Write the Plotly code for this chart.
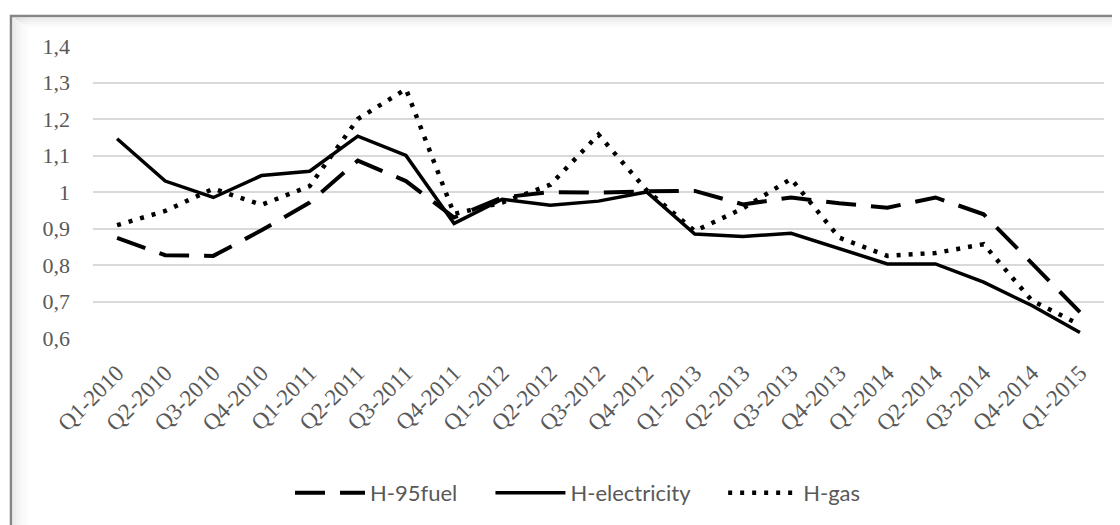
import plotly.graph_objects as go

quarters = ["Q1-2010", "Q2-2010", "Q3-2010", "Q4-2010",
            "Q1-2011", "Q2-2011", "Q3-2011", "Q4-2011",
            "Q1-2012", "Q2-2012", "Q3-2012", "Q4-2012",
            "Q1-2013", "Q2-2013", "Q3-2013", "Q4-2013",
            "Q1-2014", "Q2-2014", "Q3-2014", "Q4-2014",
            "Q1-2015"]

h_95fuel = [0.874, 0.827, 0.825, 0.895, 0.971, 1.086, 1.030, 0.930, 0.985, 1.000, 0.998,
            1.002, 1.003, 0.966, 0.985, 0.969, 0.957, 0.985, 0.939, 0.803, 0.671]
h_electricity = [1.146, 1.030, 0.985, 1.045, 1.057, 1.153, 1.100, 0.914, 0.980, 0.964, 0.975,
                 1.000, 0.885, 0.878, 0.887, 0.844, 0.803, 0.803, 0.753, 0.689, 0.615]
h_gas = [0.909, 0.948, 1.009, 0.965, 1.016, 1.200, 1.282, 0.940, 0.971, 1.020, 1.157,
         1.005, 0.893, 0.955, 1.036, 0.875, 0.825, 0.833, 0.857, 0.703, 0.636]

series_names = ["H-95fuel", "H-electricity", "H-gas"]

y_ticks = [0.6, 0.7, 0.8, 0.9, 1.0, 1.1, 1.2, 1.3, 1.4]
y_ticktext = ["0,6", "0,7", "0,8", "0,9", "1", "1,1", "1,2", "1,3", "1,4"]

# page body has an 8px margin, so the figure is drawn 8px in from the window corner
OFF = 8
W, H = 1112, 517
ML, MR, MT, MB = 85, 16, 38, 186
PW, PH = W - ML - MR, H - MT - MB


def px_x(x):
    """window pixel x -> paper coordinate"""
    return (x - OFF - ML) / PW


def px_y(y):
    """window pixel y -> paper coordinate"""
    return (H - MB - (y - OFF)) / PH


NB = "\u00a0" * 5

fig = go.Figure()
fig.add_trace(go.Scatter(x=quarters, y=h_95fuel, name=series_names[0] + NB, mode="lines",
                         line=dict(color="black", width=4, dash="30px,15px")))
fig.add_trace(go.Scatter(x=quarters, y=h_electricity, name=series_names[1] + NB, mode="lines",
                         line=dict(color="black", width=3.5)))
fig.add_trace(go.Scatter(x=quarters, y=h_gas, name=series_names[2], mode="lines",
                         line=dict(color="black", width=4.5, dash="4px,8px")))

shapes = []
# inner shadow of the frame
for i, op in enumerate([0.07, 0.05, 0.035, 0.02, 0.01]):
    off = 13 + i * 3
    shapes.append(dict(type="rect", xref="paper", yref="paper",
                       x0=px_x(off), x1=px_x(off + 3), y0=px_y(560), y1=px_y(17),
                       line=dict(width=0), fillcolor=f"rgba(0,0,0,{op})", layer="below"))
    offy = 18 + i * 2
    shapes.append(dict(type="rect", xref="paper", yref="paper",
                       x0=px_x(off + 3), x1=px_x(1160), y0=px_y(offy + 2), y1=px_y(offy),
                       line=dict(width=0), fillcolor=f"rgba(0,0,0,{op})", layer="below"))
# frame
shapes.append(dict(type="rect", xref="paper", yref="paper",
                   x0=px_x(11), x1=px_x(1160), y0=px_y(560), y1=px_y(16),
                   line=dict(color="#858585", width=2.5)))

fig.update_layout(
    width=W, height=H,
    margin=dict(l=ML, r=MR, t=MT, b=MB),
    paper_bgcolor="white", plot_bgcolor="white",
    showlegend=True,
    legend=dict(orientation="h", x=px_x(578), xanchor="center", y=px_y(493), yanchor="middle",
                font=dict(family="Lato, 'Open Sans', sans-serif", size=22, color="#595959"),
                itemwidth=70, bgcolor="rgba(0,0,0,0)"),
    shapes=shapes,
    xaxis=dict(type="category", range=[-0.5, 20.5], showgrid=False, zeroline=False,
               showline=False, ticks="", tickangle=-45, ticklabelstandoff=16,
               tickfont=dict(family="'Liberation Serif', serif", size=23, color="#595959")),
    yaxis=dict(range=[0.6, 1.4], tickvals=y_ticks, ticktext=y_ticktext,
               showgrid=True, gridcolor="#d9d9d9", gridwidth=1.5, zeroline=False,
               showline=False, ticks="", ticklabelstandoff=22,
               tickfont=dict(family="'Liberation Serif', serif", size=22, color="#595959")),
)

fig.write_html("out.html")
